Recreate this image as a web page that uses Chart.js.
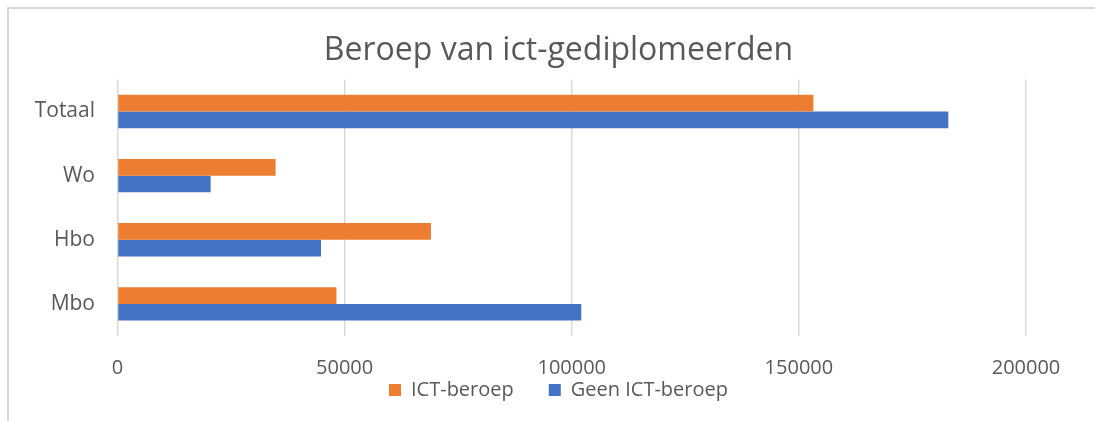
<!DOCTYPE html>
<html>
<head>
<meta charset="utf-8">
<script src="https://cdn.jsdelivr.net/npm/chart.js@4/dist/chart.umd.min.js"></script>
<style>
  html, body { margin: 0; padding: 0; background: #fff; }
  #frame { position: absolute; left: 7px; top: 7px; width: 1200px; height: 500px; border: 2px solid #d9d9d9; }
  #metrics { position: absolute; left: 0; top: 0; }
</style>
</head>
<body>
<div id="frame"></div>
<canvas id="metrics" width="1095" height="421"></canvas>
<script>
// categories, top to bottom
const categories = ["Totaal", "Wo", "Hbo", "Mbo"];
const ictBeroep = [153200, 34800, 69000, 48200];
const geenIctBeroep = [182900, 20500, 44800, 102100];
const xTicks = [0, 50000, 100000, 150000, 200000];

const textColor = "#595959";
const fontFamily = "'Open Sans', sans-serif";

// pull the legend up so it sits right under the tick labels
const legendLift = {
    id: 'legendLift',
    afterLayout(chart) {
        const lg = chart.legend;
        if (!lg) return;
        lg.top -= 35;
        lg.bottom -= 35;
    }
};

const ctx = document.getElementById('metrics');
const chart = new Chart(ctx, {
    type: 'bar',
    data: {
        labels: categories,
        datasets: [
            { label: "ICT-beroep", data: ictBeroep, backgroundColor: "#ED7D31" },
            { label: "Geen ICT-beroep", data: geenIctBeroep, backgroundColor: "#4472C4" }
        ]
    },
    options: {
        indexAxis: 'y',
        responsive: false,
        animation: false,
        categoryPercentage: 0.52,
        barPercentage: 1,
        layout: {
            padding: { left: 8, right: -14, top: 0, bottom: -24 }
        },
        scales: {
            x: {
                min: xTicks[0],
                max: xTicks[xTicks.length - 1],
                afterBuildTicks: axis => { axis.ticks = xTicks.map(v => ({ value: v })); },
                afterFit: axis => { axis.height = 44; },
                grid: { color: "#d9d9d9", lineWidth: 1.5, drawTicks: false },
                border: { display: false },
                ticks: {
                    padding: 20,
                    color: textColor,
                    font: { family: fontFamily, size: 20 },
                    callback: v => String(v)
                }
            },
            y: {
                afterFit: axis => { axis.width = 109.5; },
                grid: { display: false, drawTicks: false },
                border: { display: false },
                ticks: {
                    padding: 22.5,
                    color: textColor,
                    font: { family: fontFamily, size: 21 }
                }
            },
            // empty spacer on the right
            yRight: {
                type: 'category',
                position: 'right',
                afterFit: axis => { axis.width = 83; },
                grid: { display: false, drawTicks: false },
                border: { display: false },
                ticks: { display: false }
            }
        },
        plugins: {
            tooltip: { enabled: false },
            legend: {
                position: "bottom",
                labels: {
                    boxWidth: 12,
                    boxHeight: 12,
                    padding: 35,
                    color: textColor,
                    font: { family: fontFamily, size: 20 }
                }
            },
            title: {
                display: true,
                text: "Beroep van ict-gediplomeerden",
                color: textColor,
                font: { family: fontFamily, size: 32, weight: 'normal' },
                padding: { top: 32, bottom: 9 }
            }
        }
    },
    plugins: [legendLift]
});
</script>
</body>
</html>
